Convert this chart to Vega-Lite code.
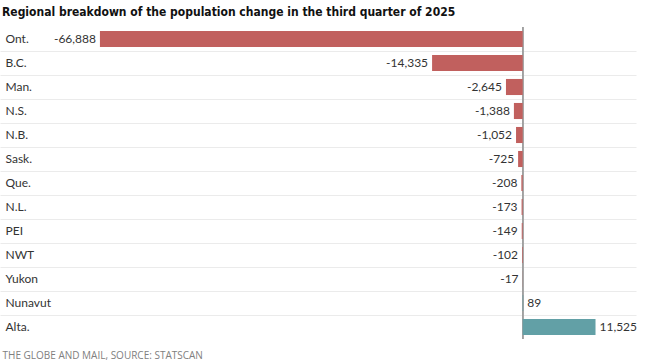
{
  "$schema": "https://vega.github.io/schema/vega-lite/v6.json",
  "width": 636,
  "height": 312,
  "autosize": {"type": "none"},
  "padding": {"top": 27, "left": 0, "right": 14, "bottom": 25},
  "background": "white",
  "config": {
    "view": {"stroke": null},
    "locale": {"number": {"decimal": ".", "thousands": ",", "grouping": [3], "currency": ["$", ""], "minus": "-"}}
  },
  "title": {
    "text": "Regional breakdown of the population change in the third quarter of 2025",
    "anchor": "start",
    "frame": "group",
    "font": "DejaVu Sans Condensed",
    "fontWeight": "bold",
    "fontSize": 12,
    "color": "#111111",
    "dx": 2,
    "offset": 8
  },
  "data": {
    "values": [
      {"region": "Ont.", "value": -66888},
      {"region": "B.C.", "value": -14335},
      {"region": "Man.", "value": -2645},
      {"region": "N.S.", "value": -1388},
      {"region": "N.B.", "value": -1052},
      {"region": "Sask.", "value": -725},
      {"region": "Que.", "value": -208},
      {"region": "N.L.", "value": -173},
      {"region": "PEI", "value": -149},
      {"region": "NWT", "value": -102},
      {"region": "Yukon", "value": -17},
      {"region": "Nunavut", "value": 89},
      {"region": "Alta.", "value": 11525}
    ]
  },
  "encoding": {
    "y": {
      "field": "region",
      "type": "nominal",
      "sort": null,
      "scale": {"paddingInner": 0, "paddingOuter": 0},
      "axis": {
        "title": null,
        "orient": "left",
        "domain": false,
        "ticks": false,
        "labelAlign": "left",
        "labelPadding": -5,
        "labelFont": "Lato",
        "labelFontSize": 12,
        "labelColor": "#333333",
        "grid": true,
        "bandPosition": 1,
        "gridColor": "#ebebeb",
        "gridWidth": 1,
        "gridOpacity": {"condition": {"test": "datum.value === 'Alta.'", "value": 0}, "value": 1}
      }
    }
  },
  "layer": [
    {
      "mark": {"type": "rule", "color": "#a0a0a0", "strokeWidth": 1},
      "encoding": {"x": {"datum": 0, "type": "quantitative"}, "y": null}
    },
    {
      "mark": {"type": "bar", "height": {"band": 0.67}},
      "encoding": {
        "x": {
          "field": "value",
          "type": "quantitative",
          "scale": {"domain": [-82700, 17930], "nice": false, "zero": false},
          "axis": {
            "title": "THE GLOBE AND MAIL, SOURCE: STATSCAN",
            "domain": false,
            "ticks": false,
            "labels": false,
            "grid": false,
            "titleAnchor": "start",
            "titleAlign": "left",
            "titleBaseline": "top",
            "titlePadding": 11,
            "titleFont": "Open Sans",
            "titleFontSize": 10,
            "titleFontWeight": "normal",
            "titleColor": "#808080",
            "titleX": 2
          }
        },
        "color": {
          "condition": {"test": "datum.value < 0", "value": "#c1605e"},
          "value": "#62a0a6"
        }
      }
    },
    {
      "transform": [{"filter": "datum.value < 0"}],
      "mark": {"type": "text", "align": "right", "dx": -4, "font": "Lato", "fontSize": 12, "color": "#333333"},
      "encoding": {
        "x": {"field": "value", "type": "quantitative"},
        "text": {"field": "value", "type": "quantitative", "format": ",d"}
      }
    },
    {
      "transform": [{"filter": "datum.value >= 0"}],
      "mark": {"type": "text", "align": "left", "dx": 4, "font": "Lato", "fontSize": 12, "color": "#333333"},
      "encoding": {
        "x": {"field": "value", "type": "quantitative"},
        "text": {"field": "value", "type": "quantitative", "format": ",d"}
      }
    }
  ]
}
